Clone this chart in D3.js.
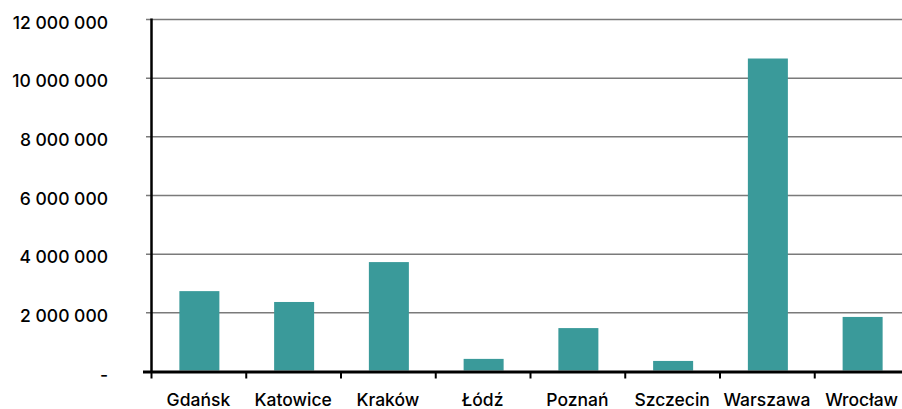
<!DOCTYPE html>
<html>
<head>
<meta charset="utf-8">
<script src="https://cdn.jsdelivr.net/npm/d3@7"></script>
<style>
  body { margin: 0; background: #fff; }
  svg text { font-family: Inter, "Noto Sans", sans-serif; fill: #000; font-weight: 500; }
</style>
</head>
<body>
<svg width="902" height="409"></svg>
<script>
// data
var cities = ["Gdańsk", "Katowice", "Kraków", "Łódź", "Poznań", "Szczecin", "Warszawa", "Wrocław"];
var values = [2740000, 2370000, 3730000, 430000, 1480000, 360000, 10670000, 1860000];
var yTicks = [0, 2000000, 4000000, 6000000, 8000000, 10000000, 12000000];

function main() {
    var svg = d3.select("svg");
    var left = 151, top = 19.5, bottom = 371.5;

    var x = d3.scaleBand().domain(cities).range([left, left + 8 * 94.75]).padding(0);
    var y = d3.scaleLinear().domain([0, 12000000]).range([bottom, top]);

    var fmt = d3.formatLocale({ decimal: ",", thousands: " ", grouping: [3], currency: ["", ""] }).format(",");

    // gridlines
    svg.append("g").selectAll("line")
        .data(yTicks.filter(function(d) { return d > 0; }))
        .enter().append("line")
        .attr("x1", 146).attr("x2", 902)
        .attr("y1", function(d) { return y(d); })
        .attr("y2", function(d) { return y(d); })
        .attr("stroke", "#7a7a7a")
        .attr("stroke-width", 1.5);

    // y labels
    svg.append("g").selectAll("text")
        .data(yTicks)
        .enter().append("text")
        .attr("x", 108)
        .attr("y", function(d) { return y(d) + 9; })
        .attr("text-anchor", "end")
        .attr("font-size", "17.5px")
        .text(function(d) { return d === 0 ? "-" : fmt(d); });

    // bars
    var bw = 40;
    svg.append("g").selectAll("rect")
        .data(cities)
        .enter().append("rect")
        .attr("x", function(d) { return x(d) + (x.bandwidth() - bw) / 2 + 1; })
        .attr("y", function(d, i) { return y(values[i]); })
        .attr("width", bw)
        .attr("height", function(d, i) { return bottom - 1 - y(values[i]); })
        .attr("fill", "#3a9a9a");

    // y axis line
    svg.append("line")
        .attr("x1", left + 0.5).attr("x2", left + 0.5)
        .attr("y1", top - 1).attr("y2", bottom)
        .attr("stroke", "#000").attr("stroke-width", 2.5);

    // x axis
    var xAxis = svg.append("g")
        .attr("transform", "translate(0," + bottom + ")")
        .call(d3.axisBottom(x).tickSize(0).tickPadding(22));
    xAxis.select(".domain").remove();
    xAxis.selectAll("text")
        .attr("font-size", "17.5px")
        .attr("font-family", "Inter, 'Noto Sans', sans-serif")
        .attr("fill", "#000");

    svg.append("line")
        .attr("x1", 143).attr("x2", 902)
        .attr("y1", bottom + 0.5).attr("y2", bottom + 0.5)
        .attr("stroke", "#000").attr("stroke-width", 3);

    svg.append("g").selectAll("line")
        .data(cities)
        .enter().append("line")
        .attr("x1", function(d) { return x(d) + 0.5; })
        .attr("x2", function(d) { return x(d) + 0.5; })
        .attr("y1", bottom).attr("y2", bottom + 7)
        .attr("stroke", "#000").attr("stroke-width", 2);
}
main();
</script>
</body>
</html>
